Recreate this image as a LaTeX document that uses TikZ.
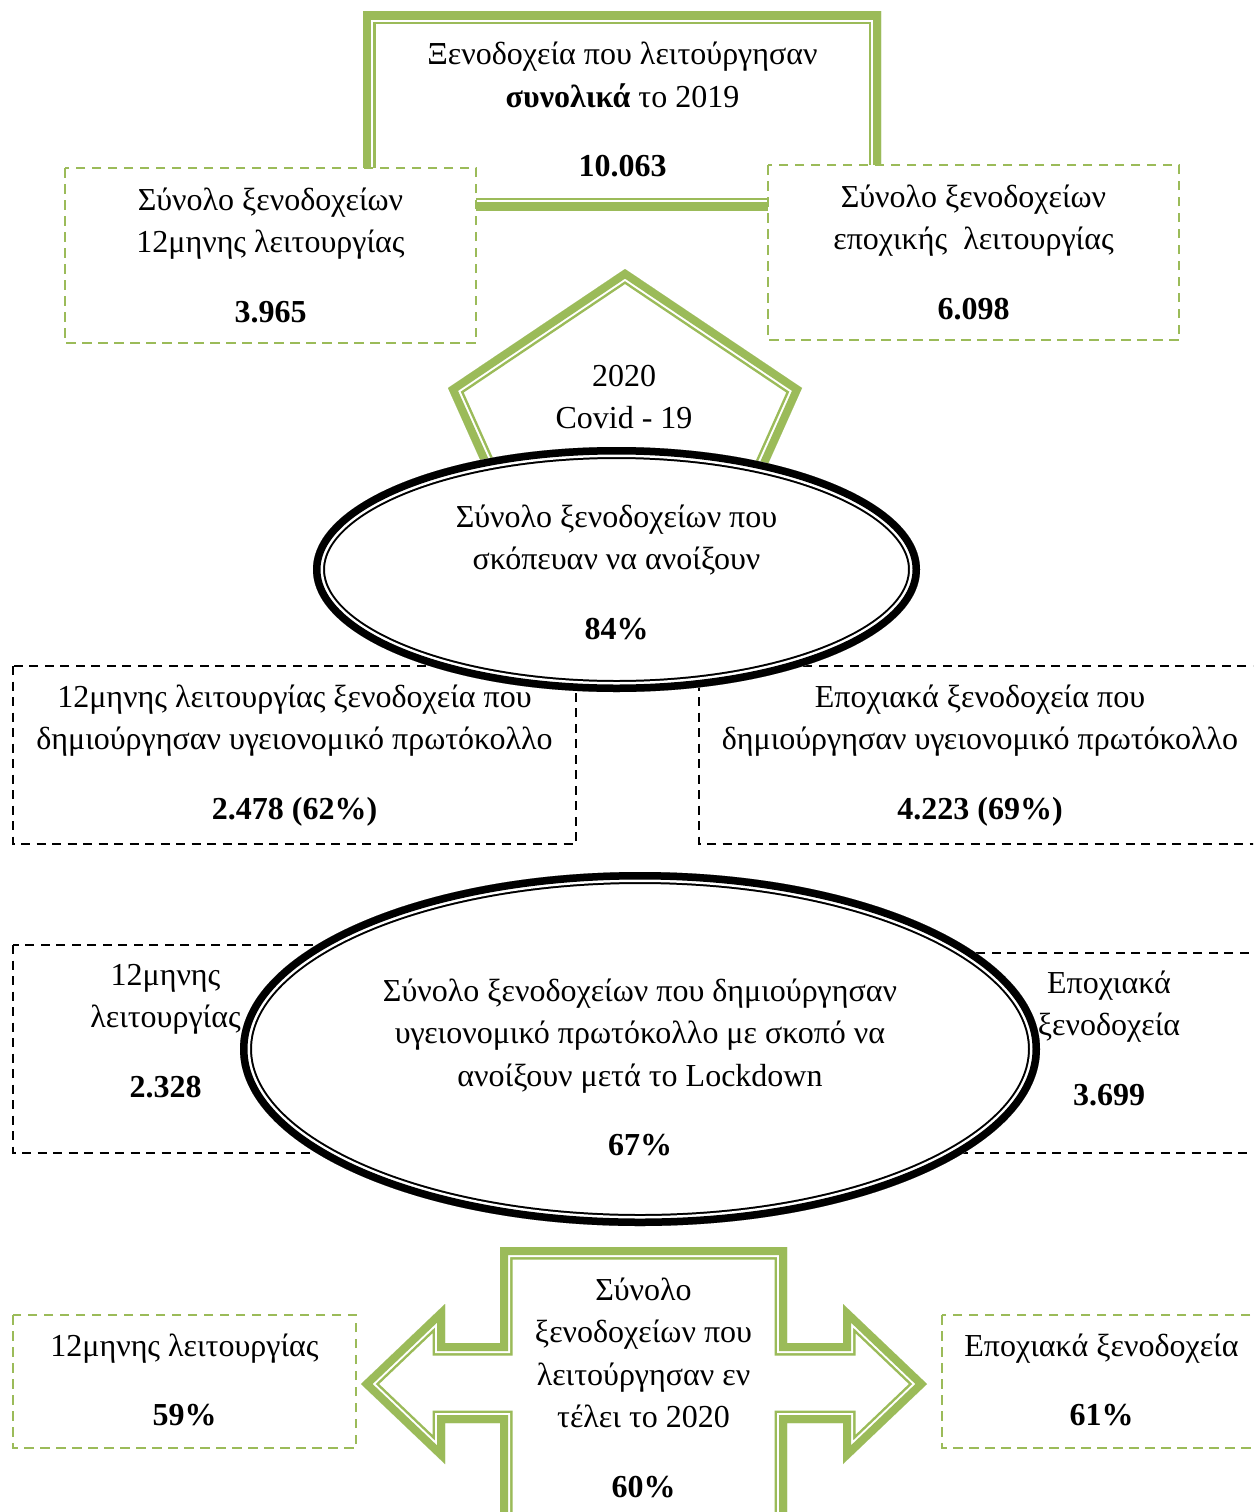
\documentclass[tikz,border=0pt]{standalone}
\usepackage{fontspec}
\setmainfont{Liberation Serif}
\definecolor{accentgreen}{HTML}{9BBB59}
\tikzset{
  greenband/.style={draw=accentgreen, line width=25pt, line join=miter,
    postaction={draw=white, line width=20pt, line join=miter},
    postaction={draw=accentgreen, line width=16pt, line join=miter}},
  blackband/.style={draw=black, line width=24pt,
    postaction={draw=white, line width=20pt},
    postaction={draw=black, line width=15pt}},
  gdash/.style={draw=accentgreen, fill=white, line width=2.5pt, dash pattern=on 9.5pt off 6.5pt},
  kdash/.style={draw=black, fill=white, line width=2.5pt, dash pattern=on 9pt off 6.5pt},
  txtblock/.style={align=center, inner sep=0pt, font=\fontsize{32}{42.5}\selectfont},
}
\begin{document}
\begin{tikzpicture}[x=1pt, y=-1pt]
\useasboundingbox (0,0) rectangle (1253,1512);
\clip (0,0) rectangle (1253,1512);
\fill[white] (0,0) rectangle (1253,1512);

% 2019 total: thick-thin green frame
\begin{scope}
  \clip (363,12) rectangle (881,210);
  \draw[greenband] (363,12) rectangle (881,210);
\end{scope}
\node[txtblock] (total2019) at (622.5,112)
  {\strut Ξενοδοχεία που λειτούργησαν\\ \textbf{συνολικά} το 2019\\[27pt] \textbf{10.063}\strut};

% year-round and seasonal boxes
\draw[gdash] (65,168) rectangle (476,343);
\node[txtblock] (yearround2019) at (270.5,257.5)
  {\strut Σύνολο ξενοδοχείων\\ 12μηνης λειτουργίας\\[27pt] \textbf{3.965}\strut};
\draw[gdash] (768,165) rectangle (1179,340);
\node[txtblock] (seasonal2019) at (973.5,254.5)
  {\strut Σύνολο ξενοδοχείων\\ εποχικής~ λειτουργίας\\[27pt] \textbf{6.098}\strut};

% 2020 pentagon
\begin{scope}
  \clip (625,269) -- (802,388) -- (725,560) -- (525,560) -- (448,388) -- cycle;
  \draw[greenband] (625,269) -- (802,388) -- (725,560) -- (525,560) -- (448,388) -- cycle;
\end{scope}
\node[txtblock] (covid) at (624,398.75) {\strut 2020\\ Covid - 19\strut};

% hotels with a health protocol
\draw[kdash] (13,666) rectangle (576,844);
\node[txtblock] (protoYear) at (294.5,754.5)
  {\strut 12μηνης λειτουργίας ξενοδοχεία που\\ δημιούργησαν υγειονομικό πρωτόκολλο\\[27pt] \textbf{2.478 (62\%)}\strut};
\draw[kdash] (699,666) rectangle (1275,844);
\node[txtblock] (protoSeason) at (980,754.5)
  {\strut Εποχιακά ξενοδοχεία που\\ δημιούργησαν υγειονομικό πρωτόκολλο\\[27pt] \textbf{4.223 (69\%)}\strut};

% intended to open
\fill[white] (616.5,569.5) ellipse [x radius=303.5, y radius=122.5];
\begin{scope}
  \clip (616.5,569.5) ellipse [x radius=303.5, y radius=122.5];
  \draw[blackband] (616.5,569.5) ellipse [x radius=303.5, y radius=122.5];
\end{scope}
\node[txtblock] (intent) at (616.5,574.5)
  {\strut Σύνολο ξενοδοχείων που\\ σκόπευαν να ανοίξουν\\[27pt] \textbf{84\%}\strut};

% reopened after lockdown
\draw[kdash] (13,945) rectangle (420,1153);
\node[txtblock] (afterYear) at (165.5,1032.5)
  {\strut 12μηνης\\ λειτουργίας\\[27pt] \textbf{2.328}\strut};
\draw[kdash] (880,953) rectangle (1275,1153);
\node[txtblock] (afterSeason) at (1109,1040.5)
  {\strut Εποχιακά\\ ξενοδοχεία\\[27pt] \textbf{3.699}\strut};
\fill[white] (640,1049) ellipse [x radius=400, y radius=177];
\begin{scope}
  \clip (640,1049) ellipse [x radius=400, y radius=177];
  \draw[blackband] (640,1049) ellipse [x radius=400, y radius=177];
\end{scope}
\node[txtblock] (lockdown) at (640,1069.75)
  {\strut Σύνολο ξενοδοχείων που δημιούργησαν\\ υγειονομικό πρωτόκολλο με σκοπό να\\ ανοίξουν μετά το Lockdown\\[27pt] \textbf{67\%}\strut};

% end of 2020
\draw[gdash] (13,1315) rectangle (356,1448);
\node[txtblock] (endYear) at (184.5,1382.25)
  {\strut 12μηνης λειτουργίας\\[27pt] \textbf{59\%}\strut};
\draw[gdash] (942,1315) rectangle (1275,1448);
\node[txtblock] (endSeason) at (1101.5,1382.25)
  {\strut Εποχιακά ξενοδοχεία\\[27pt] \textbf{61\%}\strut};
\begin{scope}
  \clip (500,1247) -- (787,1247) -- (787,1343) -- (843,1343) -- (843,1304) -- (927,1384)
    -- (843,1464) -- (843,1423) -- (787,1423) -- (787,1540) -- (500,1540) -- (500,1423)
    -- (445,1423) -- (445,1464) -- (361,1384) -- (445,1304) -- (445,1343) -- (500,1343) -- cycle;
  \draw[greenband] (500,1247) -- (787,1247) -- (787,1343) -- (843,1343) -- (843,1304) -- (927,1384)
    -- (843,1464) -- (843,1423) -- (787,1423) -- (787,1540) -- (500,1540) -- (500,1423)
    -- (445,1423) -- (445,1464) -- (361,1384) -- (445,1304) -- (445,1343) -- (500,1343) -- cycle;
\end{scope}
\node[txtblock] (end2020) at (643.5,1390)
  {\strut Σύνολο\\ ξενοδοχείων που\\ λειτούργησαν εν\\ τέλει το 2020\\[27pt] \textbf{60\%}\strut};
\end{tikzpicture}
\end{document}
